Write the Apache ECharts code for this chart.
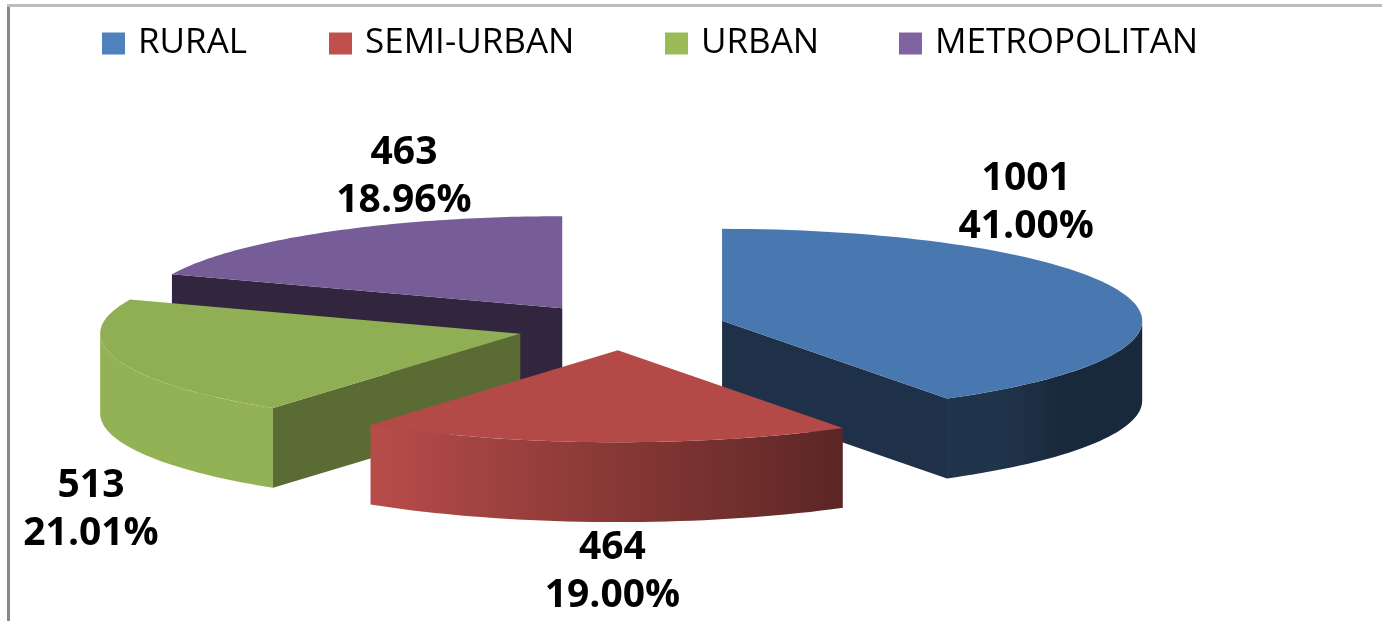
<!DOCTYPE html>
<html>
<head>
<meta charset="utf-8">
<script src="https://cdn.jsdelivr.net/npm/echarts@6/dist/echarts.min.js"></script>
<style>html,body{margin:0;padding:0;background:#fff}#main{width:1382px;height:621px}</style>
</head>
<body>
<div id="main"></div>
<script>
var categories = ['RURAL', 'SEMI-URBAN', 'URBAN', 'METROPOLITAN'];
var counts = [1001, 464, 513, 463];
var percents = ['41.00%', '19.00%', '21.01%', '18.96%'];
var colors = ['#4f81bd', '#c0504d', '#9bbb59', '#8064a2'];

// where each label block sits, relative to the pie centre in units of the radii
var labelAt = [[0.964, -1.35], [-0.021, 2.66], [-1.262, 1.98], [-0.517, -1.63]];
// darkness of the cut (radial) faces
var edgeShade = [0.38, 0.5, 0.58, 0.38];
var legendLeft = [102, 329, 665, 899];

var myChart = echarts.init(document.getElementById('main'));

function shade(hex, f) {
    var n = parseInt(hex.slice(1), 16);
    var r = Math.round(((n >> 16) & 255) * f),
        g = Math.round(((n >> 8) & 255) * f),
        b = Math.round((n & 255) * f);
    return 'rgb(' + r + ',' + g + ',' + b + ')';
}

var total = counts.reduce(function (s, v) { return s + v; }, 0);

function sliceItem(i) {
    return function (params, api) {
        var before = 0;
        for (var j = 0; j < i; j++) before += counts[j];
        var a0 = before / total * Math.PI * 2;
        var a1 = (before + counts[i]) / total * Math.PI * 2;
        var mid = (a0 + a1) / 2;
        var W = api.getWidth(), H = api.getHeight();
        var cx = W * 0.4495, cy = H * 0.527;
        var rx = W * 0.304, ry = rx * 0.219, depth = rx * 0.19;
        // exploded slice centre
        var ox = cx + Math.sin(mid) * rx * 0.25;
        var oy = cy - Math.cos(mid) * ry * 0.25;
        function pt(a, dz) {
            return [ox + rx * Math.sin(a), oy - ry * Math.cos(a) + (dz || 0)];
        }
        function poly(points, fill) {
            return {
                type: 'polygon',
                shape: { points: points },
                style: { fill: fill }
            };
        }
        var kids = [];
        var c = colors[i];
        // cut faces that face the viewer
        if (Math.sin(a0) < -1e-6) {
            kids.push(poly([[ox, oy], pt(a0), pt(a0, depth), [ox, oy + depth]], shade(c, edgeShade[i])));
        }
        if (Math.sin(a1) > 1e-6) {
            kids.push(poly([[ox, oy], pt(a1), pt(a1, depth), [ox, oy + depth]], shade(c, edgeShade[i])));
        }
        // outer rim, front half only, shaded left to right
        var lo = Math.max(a0, Math.PI / 2), hi = Math.min(a1, Math.PI * 1.5);
        if (hi > lo) {
            var steps = 40, upper = [], lower = [], stops = [];
            var xl = pt(hi)[0], xr = pt(lo)[0];
            for (var k = 0; k <= steps; k++) {
                var s = lo + (hi - lo) * k / steps;
                upper.push(pt(s));
                lower.unshift(pt(s, depth));
                var t = (s - Math.PI / 2) / Math.PI;
                var f = Math.min(0.95, Math.max(0.32, 0.47 + (t - 0.32) * 1.3));
                if (i === 0) f = Math.min(f, 0.4);
                stops.unshift({ offset: Math.min(1, Math.max(0, (pt(s)[0] - xl) / (xr - xl))), color: shade(c, f) });
            }
            kids.push(poly(upper.concat(lower),
                new echarts.graphic.LinearGradient(xl, 0, xr, 0, stops, true)));
        }
        // top face
        var top = [[ox, oy]];
        var n = 80;
        for (var m = 0; m <= n; m++) top.push(pt(a0 + (a1 - a0) * m / n));
        kids.push(poly(top, shade(c, 0.93)));
        // label
        kids.push({
            type: 'text',
            style: {
                text: counts[i] + '\n' + percents[i],
                x: cx + labelAt[i][0] * rx,
                y: cy + labelAt[i][1] * ry,
                fill: '#000',
                fontFamily: 'Open Sans',
                fontWeight: 'bold',
                fontSize: 39,
                lineHeight: 48,
                align: 'center',
                verticalAlign: 'middle'
            }
        });
        return { type: 'group', children: kids };
    };
}

// paint back slices first
var depthRank = categories.map(function (name, i) {
    var before = 0;
    for (var j = 0; j < i; j++) before += counts[j];
    var mid = (before + counts[i] / 2) / total * Math.PI * 2;
    return -Math.cos(mid);
});
var sorted = depthRank.slice().sort(function (a, b) { return a - b; });

option = {
    animation: false,
    graphic: [
        { type: 'line', shape: { x1: 8.5, y1: 4, x2: 8.5, y2: 621 }, style: { stroke: '#888', lineWidth: 3 } },
        { type: 'line', shape: { x1: 7, y1: 5.5, x2: 1382, y2: 5.5 }, style: { stroke: '#bdbdbd', lineWidth: 3 } }
    ],
    legend: categories.map(function (name, i) {
        return {
            data: [name],
            left: legendLeft[i],
            top: 26,
            padding: 0,
            icon: 'rect',
            itemWidth: 23,
            itemHeight: 22,
            selectedMode: false,
            textStyle: {
                fontFamily: 'Open Sans',
                fontSize: 35,
                color: '#000',
                lineHeight: 22,
                padding: [0, 0, 0, 8]
            }
        };
    }),
    series: categories.map(function (name, i) {
        return {
            type: 'custom',
            name: name,
            coordinateSystem: 'none',
            silent: true,
            z: 2 + sorted.indexOf(depthRank[i]),
            itemStyle: { color: colors[i] },
            renderItem: sliceItem(i),
            data: [[counts[i]]]
        };
    })
};
myChart.setOption(option);
</script>
</body>
</html>
